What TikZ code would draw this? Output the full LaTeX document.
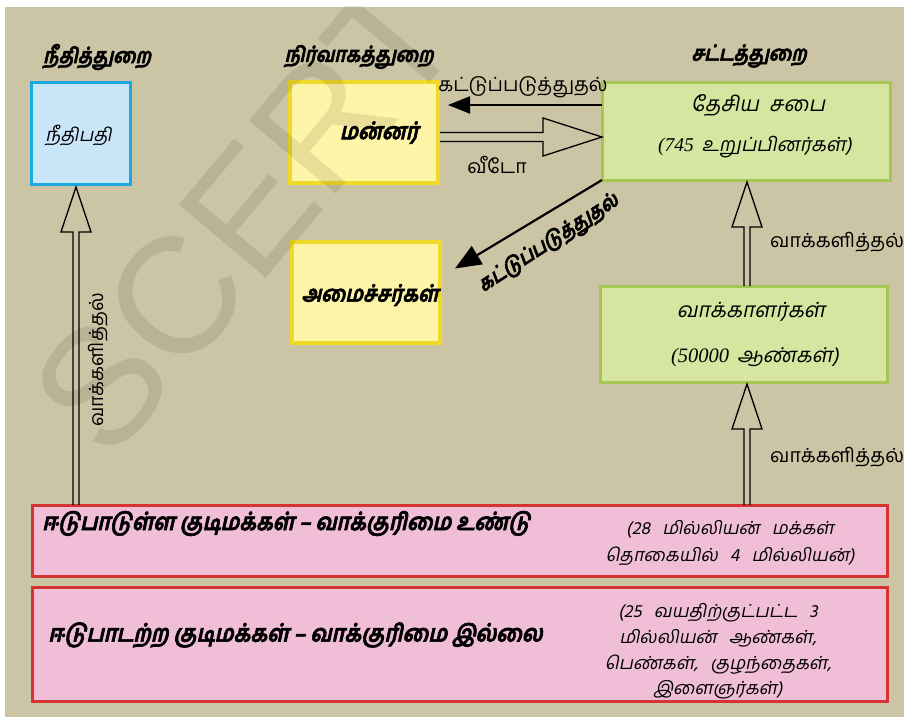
\documentclass[tikz,border=0pt]{standalone}
\usepackage{fontspec}
\usetikzlibrary{arrows.meta,calc}
\newfontfamily\ta[Script=Tamil]{Hind Madurai}
\newfontfamily\tai[Script=Tamil,FakeSlant=0.2]{Hind Madurai}
\newfontfamily\tabh[Script=Tamil,FakeSlant=0.22,FakeBold=2.5,FakeStretch=0.86]{Hind Madurai}
\newfontfamily\lserif{Liberation Serif}
\newfontfamily\lsans{Liberation Sans}
\newcommand\wsp{\hspace{12pt}}
\definecolor{bgc}{RGB}{204,197,165}
\definecolor{bluefill}{RGB}{200,230,247}
\definecolor{blueline}{RGB}{28,168,226}
\definecolor{yelfill}{RGB}{255,245,168}
\definecolor{yelline}{RGB}{240,218,40}
\definecolor{grnfill}{RGB}{214,230,160}
\definecolor{grnline}{RGB}{165,198,82}
\definecolor{pinkfill}{RGB}{240,190,214}
\definecolor{pinkline}{RGB}{214,52,50}
\newcommand\HollowUp[2]{%
  \draw[hollow] ($(#1)+(-3,0)$) -- ($(#2)+(-3,45)$) -- ($(#2)+(-15,45)$) -- (#2)
    -- ($(#2)+(15,45)$) -- ($(#2)+(3,45)$) -- ($(#1)+(3,0)$);}
\begin{document}
\begin{tikzpicture}[x=1pt,y=-1pt,
  box/.style={draw, line width=3pt, inner sep=0pt, outer sep=0pt},
  bluebox/.style={box, draw=blueline, fill=bluefill},
  yelbox/.style={box, draw=yelline, fill=yelfill, line width=3.5pt},
  grnbox/.style={box, draw=grnline, fill=grnfill},
  pinkbox/.style={box, draw=pinkline, fill=pinkfill},
  hollow/.style={draw=black, line width=1.3pt, line join=miter},
  head/.style={font=\tabh\bfseries\fontsize{21}{24}\selectfont, inner sep=0pt},
  lab/.style={font=\ta\fontsize{19.5}{22}\selectfont, inner sep=0pt},
  boxit/.style={font=\tai\fontsize{21}{24}\selectfont, inner sep=0pt},
  boxbi/.style={font=\tabh\bfseries\fontsize{22.5}{25}\selectfont, inner sep=0pt},
  side/.style={font=\tai\fontsize{18}{27}\selectfont, inner sep=0pt, align=center},
  ctrl/.style={line width=2.2pt, -{Triangle[length=22pt,width=17pt]}}
]
\useasboundingbox (0,0) rectangle (904,717);
\fill[white] (0,0) rectangle (904,717);
\fill[bgc] (5,7) rectangle (904,717);

% headings
\node[head] (h1) at (97,57) {நீதித்துறை};
\node[head] (h2) at (359,57) {நிர்வாகத்துறை};
\node[head] (h3) at (749,56) {சட்டத்துறை};

% boxes
\node[bluebox, minimum width=99pt, minimum height=102pt] (judge) at (80.5,133) {};
\node[yelbox, minimum width=148pt, minimum height=101pt] (king) at (364,132.5) {};
\node[grnbox, minimum width=288pt, minimum height=98pt] (council) at (746,131) {};
\node[yelbox, minimum width=148pt, minimum height=101pt] (ministers) at (366,292.5) {};
\node[grnbox, minimum width=287pt, minimum height=96pt] (voters) at (744,334) {};
\node[pinkbox, minimum width=855pt, minimum height=71pt] (citizens) at (459.5,540.5) {};
\node[pinkbox, minimum width=855pt, minimum height=114pt] (noncit) at (459.5,644) {};

% box texts
\node[boxit, font=\tai\fontsize{18.5}{21}\selectfont] (judgetxt) at ($(judge.center)+(-2,2)$) {நீதிபதி};
\node[boxbi, font=\tabh\bfseries\fontsize{23}{25}\selectfont] (kingtxt) at ($(king.center)+(15,0)$) {மன்னர்};
\node[boxit] (counciltxt) at ($(council.center)+(12,-26)$) {தேசிய\hspace{10pt}சபை};
\node[boxit, font=\tai\fontsize{19.5}{22}\selectfont] (councilnum) at ($(council.center)+(9,16)$) {{\lserif\itshape (745}\hspace{8pt}உறுப்பினர்கள்)};
\node[boxbi] (ministerstxt) at ($(ministers.center)+(4,2.5)$) {அமைச்சர்கள்};
\node[boxit] (voterstxt) at ($(voters.center)+(7,-22)$) {வாக்காளர்கள்};
\node[boxit, font=\tai\fontsize{20.5}{23}\selectfont] (votersnum) at ($(voters.center)+(11,23)$) {{\lserif\itshape (50000}\hspace{8pt}ஆண்கள்)};

\node[anchor=west, inner sep=0pt, font=\tabh\bfseries\fontsize{23.8}{26}\selectfont] (citizenstxt) at ($(citizens.west)+(10,-17)$) {ஈடுபாடுள்ள குடிமக்கள் – வாக்குரிமை உண்டு};
\node[side] (citizensnum) at (730,543.5) {(28\wsp மில்லியன்\wsp மக்கள்\\தொகையில்\wsp 4\wsp மில்லியன்)};
\node[anchor=west, inner sep=0pt, font=\tabh\bfseries\fontsize{24}{26}\selectfont] (noncittxt) at ($(noncit.west)+(16,-9)$) {ஈடுபாடற்ற குடிமக்கள் – வாக்குரிமை இல்லை};
\node[side, font=\tai\fontsize{18}{25.7}\selectfont] (noncitnum) at (718,651.5) {(25\wsp வயதிற்குட்பட்ட\wsp 3\\மில்லியன்\wsp ஆண்கள்,\\பெண்கள்,\wsp குழந்தைகள்,\\இளைஞர்கள்)};

% control arrow council -> king
\coordinate (c1s) at ($(council.west)+(0,-26)$);
\coordinate (c1e) at (king.east |- c1s);
\draw[ctrl, shorten >=10pt] (c1s) -- (c1e);
\node[lab] (ctrllab) at (523,87) {கட்டுப்படுத்துதல்};

% veto arrow king -> council
\coordinate (vt) at ($(council.west)+(0,6)$);
\coordinate (vb) at (king.east |- vt);
\draw[hollow] ($(vb)+(2,-4.5)$) -- ($(vt)+(-59,-4.5)$) -- ($(vt)+(-59,-19)$) -- (vt)
  -- ($(vt)+(-59,19)$) -- ($(vt)+(-59,4.5)$) -- ($(vb)+(2,4.5)$);
\node[lab] (vetolab) at (497,165) {வீடோ};

% diagonal control arrow council -> ministers
\coordinate (dtip) at ($(ministers.east)+(15,-24)$);
\draw[line width=2.2pt, -{Triangle[length=26pt,width=21pt]}] (council.south west) -- (dtip);
\node[boxbi, font=\tabh\bfseries\fontsize{20.5}{23}\selectfont, rotate=33] (diaglab) at (549,244) {கட்டுப்படுத்துதல்};

% voting arrows
\coordinate (l1b) at ($(citizens.north -| judge.south)+(-4.5,0)$);
\coordinate (l1t) at ($(judge.south)+(-4.5,3)$);
\HollowUp{l1b}{l1t}
\node[lab, rotate=90] (votelab1) at (98,360) {வாக்களித்தல்};

\coordinate (r1b) at ($(citizens.north -| voters.south)+(3,0)$);
\coordinate (r1t) at ($(voters.south)+(3,2)$);
\HollowUp{r1b}{r1t}
\node[lab, anchor=west] (votelab2) at (770,457) {வாக்களித்தல்};

\coordinate (r2b) at ($(voters.north)+(3,0)$);
\coordinate (r2t) at ($(council.south)+(1,2)$);
\HollowUp{r2b}{r2t}
\node[lab, anchor=west] (votelab3) at (770,242) {வாக்களித்தல்};

% watermark
\begin{scope}
\clip (5,7) rectangle (904,717);
\node[rotate=50, text=black, opacity=0.09, font=\lsans\fontsize{165}{165}\selectfont] (wm) at (245,215) {SCERT};
\end{scope}
\end{tikzpicture}
\end{document}
